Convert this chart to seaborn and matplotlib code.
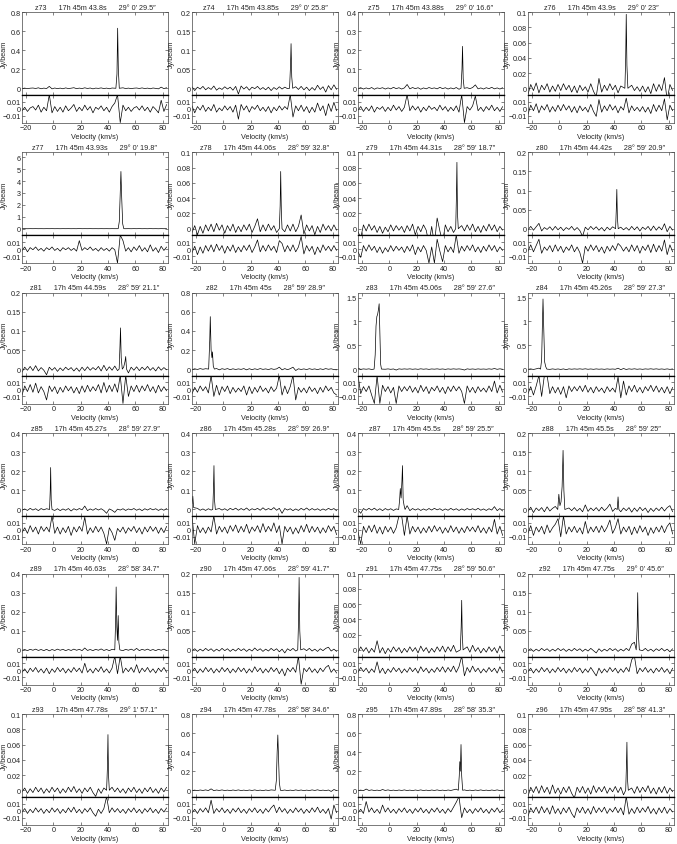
import numpy as np
import pandas as pd
import matplotlib
matplotlib.use('Agg')
import matplotlib.pyplot as plt
from matplotlib.ticker import FuncFormatter
import seaborn as sns

SOURCES = ['z73', 'z74', 'z75', 'z76', 'z77', 'z78', 'z79', 'z80',
           'z81', 'z82', 'z83', 'z84', 'z85', 'z86', 'z87', 'z88',
           'z89', 'z90', 'z91', 'z92', 'z93', 'z94', 'z95', 'z96']
RA = ['17h 45m 43.8s', '17h 45m 43.85s', '17h 45m 43.88s', '17h 45m 43.9s',
      '17h 45m 43.93s', '17h 45m 44.06s', '17h 45m 44.31s', '17h 45m 44.42s',
      '17h 45m 44.59s', '17h 45m 45s', '17h 45m 45.06s', '17h 45m 45.26s',
      '17h 45m 45.27s', '17h 45m 45.28s', '17h 45m 45.5s', '17h 45m 45.5s',
      '17h 45m 46.63s', '17h 45m 47.66s', '17h 45m 47.75s', '17h 45m 47.75s',
      '17h 45m 47.78s', '17h 45m 47.78s', '17h 45m 47.89s', '17h 45m 47.95s']
DEC = ['29\u00b0 0\u2032 29.5\u2033', '29\u00b0 0\u2032 25.8\u2033', '29\u00b0 0\u2032 16.6\u2033', '29\u00b0 0\u2032 23\u2033',
       '29\u00b0 0\u2032 19.8\u2033', '28\u00b0 59\u2032 32.8\u2033', '28\u00b0 59\u2032 18.7\u2033', '28\u00b0 59\u2032 20.9\u2033',
       '28\u00b0 59\u2032 21.1\u2033', '28\u00b0 59\u2032 28.9\u2033', '28\u00b0 59\u2032 27.6\u2033', '28\u00b0 59\u2032 27.3\u2033',
       '28\u00b0 59\u2032 27.9\u2033', '28\u00b0 59\u2032 26.9\u2033', '28\u00b0 59\u2032 25.5\u2033', '28\u00b0 59\u2032 25\u2033',
       '28\u00b0 58\u2032 34.7\u2033', '28\u00b0 59\u2032 41.7\u2033', '28\u00b0 59\u2032 50.6\u2033', '29\u00b0 0\u2032 45.6\u2033',
       '29\u00b0 1\u2032 57.1\u2033', '28\u00b0 58\u2032 34.6\u2033', '28\u00b0 58\u2032 35.3\u2033', '28\u00b0 58\u2032 41.3\u2033']
YTOP = [0.8, 0.2, 0.4, 0.1, 6.4, 0.1, 0.1, 0.2,
        0.2, 0.8, 1.6, 1.6, 0.4, 0.4, 0.4, 0.2,
        0.4, 0.2, 0.1, 0.2, 0.1, 0.8, 0.8, 0.1]
YSTEP = [0.2, 0.05, 0.1, 0.02, 1, 0.02, 0.02, 0.05,
         0.05, 0.2, 0.5, 0.5, 0.1, 0.1, 0.1, 0.05,
         0.1, 0.05, 0.02, 0.05, 0.02, 0.2, 0.2, 0.02]

# channel grid of the residuals (km/s)
V0, DV = -23, 2

# fit residuals in mJy/beam
res73 = [-3, 2, -4, 1, 3, -2, 5, -5, 2, -3, 20, -6, 3, -4, 2, -5, 4, -3,
         1, 6, -4, 2, -3, 5, -2, 3, -6, 2, -1, 4, -3, 2, -5, 3, 8, 20,
         -20, 5, -3, 2, -4, 1, 3, -2, 4, -3, 2, -5, 3, -1, -6, 12, -4, 6]
res74 = [4, -6, 3, -2, 5, -4, 2, -3, 6, -5, 1, -3, 4, -2, 3, -5, 5, -15,
         6, -2, 4, -5, 3, -1, 5, -3, 2, -4, 3, -6, 2, -3, 4, -2, 3, -1,
         20, -12, 4, -3, 5, -4, 3, -6, 2, -5, 8, -3, 4, -10, 7, -4, 9, -3]
res75 = [-2, 3, -4, 2, -3, 4, -5, 2, -1, 3, -4, 2, -3, 5, -2, 3, -4, 2,
         20, -3, 4, -2, 3, -5, 2, -3, 4, -1, 2, -3, 5, -2, 3, -4, 2, -3,
         4, -5, 20, -20, 3, -2, 4, 18, -3, 2, -4, 3, -2, 5, -3, 2, -4, 3]
res76 = [-8, 5, -3, 7, -6, 4, -2, 6, -5, 3, -4, 5, -3, 6, -2, 4, -5, 3,
         -6, 4, -3, 2, -5, 6, -4, -11, 13, -5, 4, -3, 6, -2, 4, -6, 3, -2,
         15, -6, 4, -3, 2, -4, 3, -5, 2, -7, 6, -4, 5, -3, 14, -16, 5, -3]
res77 = [-2, 3, -4, 2, -1, 3, -2, 1, -3, 2, -1, 3, -2, 1, -3, 2, -1, 2,
         -2, 1, -3, 12, -2, 2, -1, 3, -2, 1, -3, 2, -2, 1, -3, 2, -1, -20,
         20, 12, -3, 2, -4, 3, -2, 5, -3, 2, -4, 6, -3, 2, -5, 4, -2, 3]
res78 = [-5, 4, -8, 3, -6, 5, -3, 6, -4, 7, -2, 5, -6, 4, -3, 6, -5, 3,
         -4, 5, -2, 6, -5, 3, 13, -4, 5, -3, 6, -2, 4, -5, 12, 8, -4, 5,
         -3, 6, -4, 3, 18, -7, 5, -3, 4, -8, 3, -5, 6, -2, 4, -3, 5, -2]
res79 = [-4, -12, 5, -3, 6, -2, 4, -5, 3, -6, 2, -4, 5, -3, 4, -2, 3, -5,
         4, -3, 6, -8, 3, -4, 5, -2, -20, 3, -20, 14, -3, -18, 5, -4, 3, -5,
         20, -6, 4, -3, 5, -2, 6, -4, 3, -5, 4, -3, 6, -2, 5, -4, 3, -2]
res80 = [-3, 6, -4, 5, 14, -6, 3, -2, 5, -4, 6, -3, 4, -5, 3, -2, 6, -4,
         3, -5, -20, 4, -3, 6, -2, 5, -4, 3, -6, 4, -3, 5, -2, 8, 4, -3,
         3, -4, 6, -3, 5, -6, 4, -2, 6, -5, 7, -4, 5, -3, 13, -8, 6, -4]
res81 = [-8, 5, -3, 7, -4, 9, -5, 4, -3, -15, 5, -3, 4, -6, 3, -4, 5, -2,
         4, -5, 3, -6, 5, -4, 6, -3, 4, -2, 7, -5, 10, -4, 6, -3, 8, -4,
         20, -20, 20, -10, 5, -3, 6, -4, 5, -2, 7, -3, 4, -5, 6, -3, 4, -2]
res82 = [-6, 3, -4, 5, -2, 4, -5, 20, -10, 6, -8, 4, -3, 5, -6, 3, -4, 2,
         -3, 5, -8, 4, -6, 3, -4, 5, -3, 2, -5, 4, -3, 2, 20, -8, 5, -6,
         4, 20, -15, 3, -4, 2, -5, 4, -3, 2, -6, 3, -4, 5, -2, 3, -5, -8]
res83 = [20, -6, 4, -3, 5, -8, -20, 20, -20, 6, -3, 4, -5, 3, -20, 5, -3, 4,
         -2, 5, -4, 3, -5, 6, -3, 4, -6, 3, -2, 5, -4, 3, -6, 4, -3, 5,
         -2, 4, -3, -20, 5, -4, 3, -5, 4, -3, 2, -4, 5, -3, 12, -5, 6, -4]
res84 = [-6, 4, -8, 5, 20, -10, 20, 20, -6, 4, -5, 3, -7, 4, -12, 5, -3, 4,
         -2, 5, -3, 6, -4, 3, -5, 4, -3, 2, -5, 4, -3, 2, -4, 18, -12, 12,
         -8, 5, -3, 6, -4, 3, -5, 4, -2, 6, -3, 5, -4, 3, -5, 4, -6, 3]
res85 = [-4, 3, -5, 6, -3, 4, -6, 5, -2, 4, -3, 20, -5, 4, -6, 3, -4, 5,
         -8, 4, -3, 5, -2, 18, -6, 3, -4, 5, -3, 4, -5, -20, 3, -4, -15, 2,
         -3, 4, -5, 3, -2, 5, -4, 3, -6, 4, -3, 5, -2, 4, -5, 3, -4, 5]
res86 = [20, -20, 6, -4, 3, -5, 4, -3, 20, -6, 5, -3, 4, -5, 6, -2, 7, -4,
         5, -3, 8, -5, 4, -2, 6, -4, 9, -3, 5, -2, 10, -4, 6, -20, 5, -3,
         4, -6, 3, -5, 6, -3, 8, -4, 5, -3, 4, -5, 3, -4, 6, -2, 5, -7]
res87 = [-3, -20, 5, -4, 6, -3, 7, -5, 4, -6, 5, -3, 4, -5, 3, 20, 20, -8,
         20, -6, 5, -3, 4, -5, 3, -4, 5, -3, 6, -2, 4, -5, 3, -4, 6, -3,
         4, -5, 3, -4, 5, -2, 4, -3, 6, -4, 3, -5, 4, -3, 15, -6, 5, -8]
res88 = [-5, 6, -8, 4, -3, 5, -6, 7, -4, 3, 8, 16, -10, 20, -6, 4, -3, 5,
         -4, 3, -6, 12, -5, 4, -3, 5, -4, 6, -3, 4, 14, -5, 3, 16, -6, 4,
         -3, 5, -7, 4, -5, 6, -3, 4, -8, 3, -5, 4, -3, 6, -4, 5, 10, -6]
res89 = [-3, 2, -4, 3, -2, 4, -3, 2, -4, 3, -5, 2, -3, 4, -2, 3, -4, 2,
         -3, 4, -2, 3, -4, 10, -3, 2, -4, 3, -2, 5, -3, 2, -4, 3, 20, -5,
         20, -4, 3, -2, 4, -3, 8, -4, 3, -2, 4, -3, 2, -4, 3, -2, 4, -3]
res90 = [-2, 3, -4, 2, -3, 4, -2, 3, -4, 2, -3, 4, -2, 3, -4, 2, -3, 4,
         -2, 3, -4, 2, -3, 5, -2, 3, -4, 2, -3, 4, -2, 3, -5, 2, -8, 3,
         -2, 4, -3, 20, -20, 3, -2, 4, -3, 2, -4, 3, -2, 4, 7, -3, 2, -4]
res91 = [-3, 4, -2, 3, -4, 2, -3, 12, -4, 3, -5, 2, -3, 4, -2, 3, -4, 2,
         -3, 4, -2, 3, -4, 5, -2, 3, -4, 2, -3, 4, -2, 5, -3, 4, -2, 6,
         -3, 5, 20, -8, 4, -3, 6, -2, 3, -4, 2, -3, 4, -2, 3, -4, 5, -3]
res92 = [-2, 3, -4, 2, -3, 4, -2, 3, -4, 2, -3, 4, -2, 3, -4, 2, -3, 4,
         -2, 3, -4, 2, -3, 4, -2, -8, 3, -4, 2, -3, 4, -2, 3, -4, 2, -3,
         4, -2, 15, 20, -5, 3, -2, 4, -3, 2, -4, 3, -2, 4, -3, 2, -5, 3]
res93 = [-2, 3, -4, 2, -3, 4, -2, 3, -4, 2, -3, 4, -2, 3, -4, 2, -3, 4,
         -2, 5, -3, 2, -4, 3, -2, 4, -3, -8, 2, -4, 3, 20, -3, 4, -2, 3,
         -3, 2, -4, 3, -2, 4, -3, 2, -4, 3, -2, 4, -3, 2, -4, 3, -2, 4]
res94 = [-3, 2, -4, 3, -2, 4, -3, 15, -4, 3, -2, 4, -3, 2, -4, 3, -2, 4,
         -3, 2, -4, 3, -2, 4, -3, 2, -4, 3, -2, 4, 8, -3, 5, -2, 3, -4,
         2, -3, 4, -2, 3, -4, 2, -3, 4, -2, 5, -3, 2, -4, 3, -12, 8, -3]
res95 = [-3, 2, -4, 13, -2, 4, -3, 2, -4, 8, -2, 4, -3, 2, -4, 3, -2, 4,
         -3, 2, -4, 3, -2, 4, -3, 2, -4, 3, -2, 4, -3, 2, -4, 3, -2, 5,
         12, 20, -10, 4, -3, 2, -4, 3, -2, 4, -3, 2, -4, 3, -2, 4, -3, 2]
res96 = [-8, 4, -3, 5, -4, 6, -3, 4, -5, 7, -4, 3, -5, 4, -3, 5, -4, -10,
         4, -3, 5, -4, 3, -5, 6, -3, 4, -2, 5, -4, 3, -2, 5, -3, 4, -6,
         20, -5, 3, -4, 5, -3, 4, -2, 6, -4, 3, -5, 4, -3, 5, -4, 3, -2]

# emission lines (velocity km/s, Jy/beam)
line73 = [(45.8, 0.0), (46.6, 0.15), (47.1, 0.63), (47.6, 0.2), (48.3, 0.0)]
line74 = [(48.5, 0.0), (49.2, 0.06), (49.6, 0.117), (50.1, 0.03), (50.8, 0.0)]
line75 = [(52.5, 0.0), (53.2, 0.1), (53.6, 0.22), (54.1, 0.05), (54.8, 0.0)]
line76 = [(48.0, 0.0), (48.6, 0.04), (49.0, 0.097), (49.5, 0.03), (50.2, 0.0)]
line77 = [(47.5, 0.0), (48.3, 0.6), (49.0, 3.0), (49.5, 4.8), (50.1, 2.5), (50.8, 0.4), (51.6, 0.0)]
line78 = [(41.0, 0.0), (41.6, 0.03), (42.0, 0.075), (42.5, 0.02), (43.0, 0.0)]
line79 = [(48.6, 0.0), (49.1, 0.04), (49.5, 0.087), (49.9, 0.02), (50.5, 0.0)]
line80 = [(41.2, 0.0), (41.7, 0.05), (42.1, 0.103), (42.5, 0.03), (43.1, 0.0)]
line81 = [(48.2, 0.0), (48.8, 0.06), (49.2, 0.108), (49.7, 0.03), (50.5, 0.0),
          (51.5, 0.005), (52.5, 0.02), (53.0, 0.033), (53.6, 0.0)]
line82 = [(-10.8, 0.0), (-10.0, 0.3), (-9.6, 0.55), (-9.0, 0.2), (-8.4, 0.12),
          (-8.0, 0.18), (-7.4, 0.03), (-6.6, 0.0)]
line83 = [(-11.2, 0.0), (-10.4, 0.3), (-9.8, 0.9), (-9.2, 1.1), (-8.6, 1.15),
          (-8.0, 1.25), (-7.5, 1.37), (-7.0, 0.8), (-6.4, 0.1), (-5.8, 0.0)]
line84 = [(-13.8, 0.0), (-13.0, 0.2), (-12.4, 1.0), (-12.0, 1.47), (-11.5, 0.9),
          (-10.8, 0.15), (-10.0, 0.05), (-9.2, 0.0)]
line85 = [(-2.8, 0.0), (-2.3, 0.1), (-2.0, 0.22), (-1.6, 0.05), (-1.0, 0.0)]
line86 = [(-23.0, 0.03), (-22.4, 0.07), (-21.8, 0.01),
          (-7.8, 0.0), (-7.3, 0.1), (-6.9, 0.23), (-6.5, 0.05), (-5.9, 0.0)]
line87 = [(6.8, 0.0), (7.5, 0.05), (8.0, 0.11), (8.6, 0.06), (9.2, 0.15),
          (9.6, 0.23), (10.1, 0.05), (10.8, 0.02), (11.5, 0.0)]
line88 = [(-1.2, 0.0), (-0.4, 0.04), (0.4, 0.01), (1.2, 0.02), (2.0, 0.06),
          (2.7, 0.155), (3.3, 0.05), (4.0, 0.0),
          (42.4, 0.0), (43.0, 0.033), (43.6, 0.0)]
line89 = [(45.0, 0.0), (45.6, 0.15), (46.0, 0.33), (46.5, 0.12), (47.0, 0.05),
          (47.5, 0.18), (48.0, 0.04), (48.7, 0.0)]
line90 = [(54.5, 0.0), (55.1, 0.08), (55.5, 0.19), (56.0, 0.05), (56.7, 0.0)]
line91 = [(52.0, 0.0), (52.6, 0.03), (53.0, 0.065), (53.4, 0.02), (54.0, 0.0)]
line92 = [(56.3, 0.0), (57.0, 0.06), (57.4, 0.15), (57.9, 0.04), (58.6, 0.0)]
line93 = [(39.0, 0.0), (39.6, 0.03), (40.0, 0.073), (40.4, 0.02), (41.0, 0.0)]
line94 = [(38.0, 0.0), (38.8, 0.1), (39.4, 0.4), (39.9, 0.58), (40.4, 0.35),
          (41.0, 0.08), (41.8, 0.0)]
line95 = [(50.5, 0.0), (51.2, 0.15), (51.6, 0.3), (52.0, 0.2), (52.5, 0.48),
          (53.0, 0.15), (53.7, 0.0)]
line96 = [(48.6, 0.0), (49.1, 0.03), (49.5, 0.063), (49.9, 0.015), (50.5, 0.0)]

RESIDUALS = [res73, res74, res75, res76, res77, res78, res79, res80,
             res81, res82, res83, res84, res85, res86, res87, res88,
             res89, res90, res91, res92, res93, res94, res95, res96]
LINES = [line73, line74, line75, line76, line77, line78, line79, line80,
         line81, line82, line83, line84, line85, line86, line87, line88,
         line89, line90, line91, line92, line93, line94, line95, line96]


def spectra(res, line):
    """Residual frame and full spectrum (baseline channels + line channels)."""
    v = V0 + DV * np.arange(len(res))
    r = np.array(res) / 1000.0
    lv = np.array([p[0] for p in line])
    lf = np.array([p[1] for p in line])
    keep = np.array([np.min(np.abs(lv - x)) > 1.0 for x in v])
    spec = pd.DataFrame({'v': np.concatenate([v[keep], lv]),
                         'f': np.concatenate([r[keep], lf])}).sort_values('v')
    resid = pd.DataFrame({'v': v, 'f': r})
    return spec, resid


def fmt(val, pos):
    s = f'{val:.10g}'
    if abs(val) < 1e-12:
        s = '0'
    return s.replace('-', '\u2212')


sns.set_style('ticks')
plt.rcParams['font.family'] = ['Liberation Sans', 'DejaVu Sans']
plt.rcParams['xtick.direction'] = 'in'
plt.rcParams['ytick.direction'] = 'in'

W, H = 677, 845
fig = plt.figure(figsize=(W / 100, H / 100), dpi=100)

col_left = [22, 192, 358, 528]
label_x = [-0.098, -0.118, -0.118, -0.118]
ax_w = 146
main_h, res_h = 83, 28
fs = 5.2

for i, name in enumerate(SOURCES):
    row, col = divmod(i, 4)
    top = 13 + 140.4 * row
    x0 = col_left[col] / W
    ax = fig.add_axes([x0, 1 - (top + main_h) / H, ax_w / W, main_h / H])
    axr = fig.add_axes([x0, 1 - (top + main_h + res_h) / H, ax_w / W, res_h / H])

    spec, resid = spectra(RESIDUALS[i], LINES[i])
    sns.lineplot(data=spec, x='v', y='f', ax=ax, color='black', lw=0.5,
                 estimator=None, sort=False)
    sns.lineplot(data=resid, x='v', y='f', ax=axr, color='black', lw=0.5,
                 estimator=None, sort=False)

    ytop = YTOP[i]
    ticks = [round(k * YSTEP[i], 6) for k in range(int(round(ytop / YSTEP[i])) + 1)
             if k * YSTEP[i] <= ytop + 1e-9]
    ax.set_ylim(-0.088 * ytop, ytop)
    ax.set_yticks(ticks)
    axr.set_ylim(-0.0205, 0.0195)
    axr.set_yticks([-0.01, 0, 0.01])

    for a in (ax, axr):
        a.set_xlim(-23, 84)
        a.set_xticks([-20, 0, 20, 40, 60, 80])
        a.yaxis.set_major_formatter(FuncFormatter(fmt))
        a.xaxis.set_major_formatter(FuncFormatter(fmt))
        a.tick_params(top=True, right=True, length=2, width=0.4,
                      labelsize=fs, pad=1.0, colors='#222')
        for s in a.spines.values():
            s.set_linewidth(0.5)
            s.set_color('#444')
        a.set_ylabel('')
        a.set_xlabel('')
    ax.tick_params(labelbottom=False)
    ax.spines['bottom'].set_color('black')
    ax.spines['bottom'].set_linewidth(0.9)
    axr.spines['top'].set_color('black')
    axr.spines['top'].set_linewidth(0.9)

    ax.set_ylabel('Jy/beam', fontsize=fs)
    ax.yaxis.set_label_coords(label_x[col], 0.5)
    axr.set_xlabel('Velocity (km/s)', fontsize=fs, labelpad=1)
    ax.set_title(f'{name}      {RA[i]}      {DEC[i]}', fontsize=fs, pad=2.5)

fig.savefig('out.png', dpi=100, facecolor='white')
